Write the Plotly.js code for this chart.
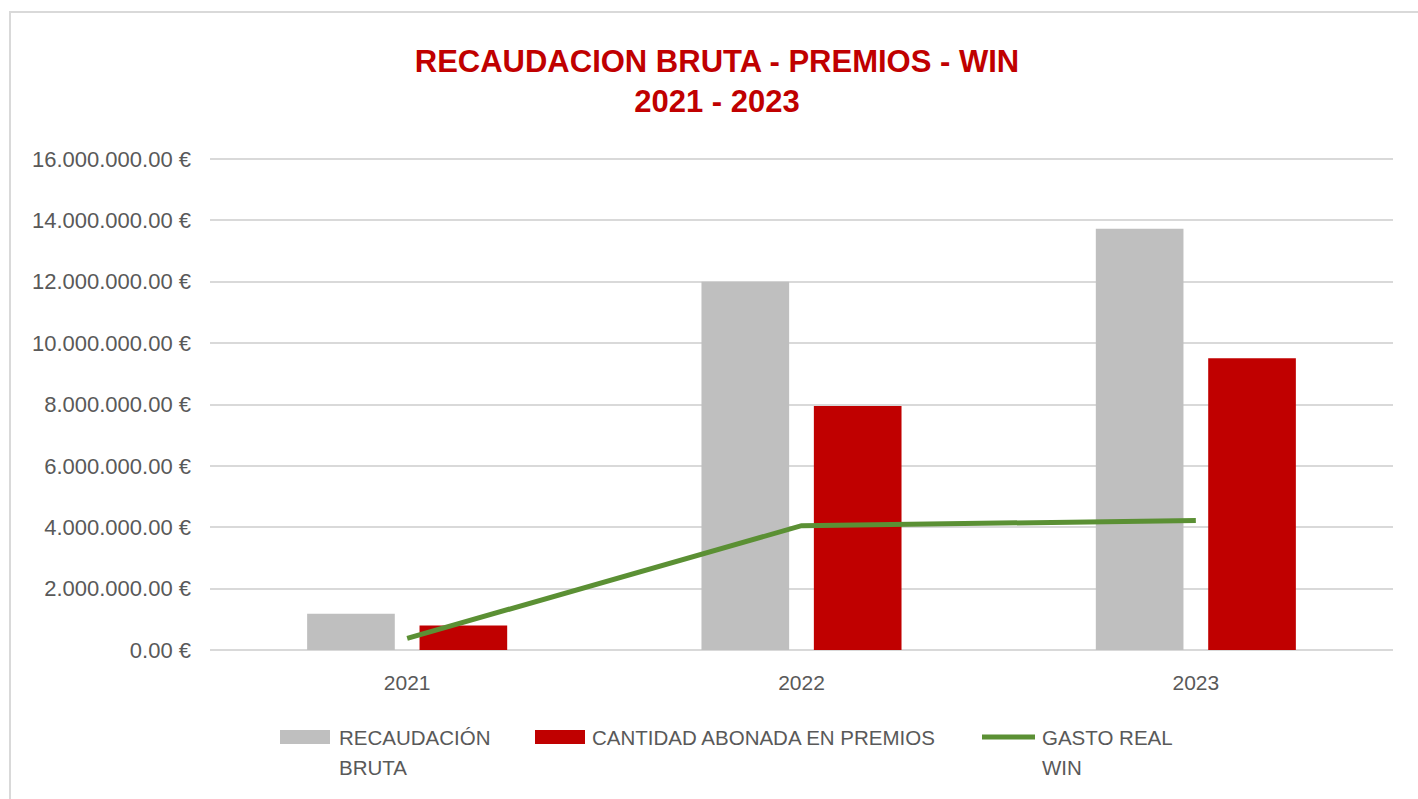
<!DOCTYPE html>
<html>
<head>
<meta charset="utf-8">
<script src="https://cdn.plot.ly/plotly-3.0.1.min.js"></script>
<style>
html, body { margin: 0; padding: 0; background: #ffffff; overflow: hidden; }
#chart { width: 1418px; height: 799px; }
</style>
</head>
<body>
<div id="chart"></div>
<script>
// ---- data ----
const years = ['2021', '2022', '2023'];
const recaudacionBruta = [1180000, 12000000, 13730000];
const premios = [800000, 7950000, 9510000];
const gastoReal = [380000, 4050000, 4220000];

const seriesNames = ['RECAUDACIÓN BRUTA', 'CANTIDAD ABONADA EN PREMIOS', 'GASTO REAL WIN'];
const legendLines = [['RECAUDACIÓN', 'BRUTA'], ['CANTIDAD ABONADA EN PREMIOS'], ['GASTO REAL', 'WIN']];

const yTickVals = [0, 2000000, 4000000, 6000000, 8000000, 10000000, 12000000, 14000000, 16000000];
const yTickLabels = ['0.00 €', '2.000.000.00 €', '4.000.000.00 €', '6.000.000.00 €', '8.000.000.00 €',
                     '10.000.000.00 €', '12.000.000.00 €', '14.000.000.00 €', '16.000.000.00 €'];
const yMax = 16065000; // a hair above the top tick so its gridline is drawn

const titleText = 'RECAUDACION BRUTA - PREMIOS - WIN<br>2021 - 2023';

// ---- style ----
const W = 1418, H = 799;
const M = { l: 210, r: 25, t: 157, b: 149 };
const plotW = W - M.l - M.r, plotH = H - M.t - M.b;
const px2x = p => (p - M.l) / plotW;
const px2y = p => (H - M.b - p) / plotH;

const GRAY = '#bfbfbf', RED = '#c00000', GREEN = '#5b9034', TXT = '#595959', GRID = '#d9d9d9';
const FONT = 'Liberation Sans, Arial, sans-serif';

const traces = [
  { type: 'bar', name: seriesNames[0], x: years, y: recaudacionBruta,
    marker: { color: GRAY }, hoverinfo: 'skip' },
  { type: 'bar', name: seriesNames[1], x: years, y: premios,
    marker: { color: RED }, hoverinfo: 'skip' },
  { type: 'scatter', mode: 'lines', name: seriesNames[2], x: years, y: gastoReal,
    line: { color: GREEN, width: 5 }, hoverinfo: 'skip' }
];

// custom legend (wide swatches like the original)
const colors = [GRAY, RED, GREEN];
const swatchX = [280, 535, 982];
const textX = [337, 590, 1040];
const shapes = [];
const annotations = [];
for (let i = 0; i < 3; i++) {
  if (i < 2) {
    shapes.push({ type: 'rect', xref: 'paper', yref: 'paper',
      x0: px2x(swatchX[i]), x1: px2x(swatchX[i] + 50), y0: px2y(744), y1: px2y(730),
      fillcolor: colors[i], line: { width: 0 } });
  } else {
    shapes.push({ type: 'line', xref: 'paper', yref: 'paper',
      x0: px2x(swatchX[i]), x1: px2x(swatchX[i] + 53), y0: px2y(737), y1: px2y(737),
      line: { color: colors[i], width: 5 } });
  }
  legendLines[i].forEach((t, k) => {
    annotations.push({ xref: 'paper', yref: 'paper', x: px2x(textX[i]), y: px2y(737 + 30 * k),
      xanchor: 'left', yanchor: 'middle', showarrow: false, text: t,
      font: { family: FONT, size: 20.5, color: TXT } });
  });
}
// outer chart border
shapes.push({ type: 'rect', xref: 'paper', yref: 'paper', layer: 'below',
  x0: px2x(10), x1: px2x(1440), y0: px2y(820), y1: px2y(12),
  line: { color: GRID, width: 2 }, fillcolor: 'rgba(0,0,0,0)' });

const layout = {
  width: W, height: H,
  margin: M,
  paper_bgcolor: '#ffffff', plot_bgcolor: '#ffffff',
  showlegend: false,
  barmode: 'group', bargap: 0.43, bargroupgap: 0.22,
  title: { text: titleText, x: 717 / W, xanchor: 'center', y: 1 - 72 / H, yanchor: 'middle',
    font: { family: FONT, size: 31, color: RED, weight: 'bold' } },
  xaxis: { type: 'category', showgrid: false, zeroline: false, showline: false, ticks: '',
    ticklabelstandoff: 18, tickfont: { family: FONT, size: 21, color: TXT } },
  yaxis: { range: [0, yMax], tickvals: yTickVals, ticktext: yTickLabels,
    showgrid: true, gridcolor: GRID, gridwidth: 2, zeroline: true, zerolinecolor: GRID, zerolinewidth: 2,
    showline: false, ticks: '', ticklabelstandoff: 18,
    tickfont: { family: FONT, size: 22, color: TXT } },
  shapes: shapes,
  annotations: annotations
};

Plotly.newPlot('chart', traces, layout, { staticPlot: true, displayModeBar: false });
</script>
</body>
</html>
